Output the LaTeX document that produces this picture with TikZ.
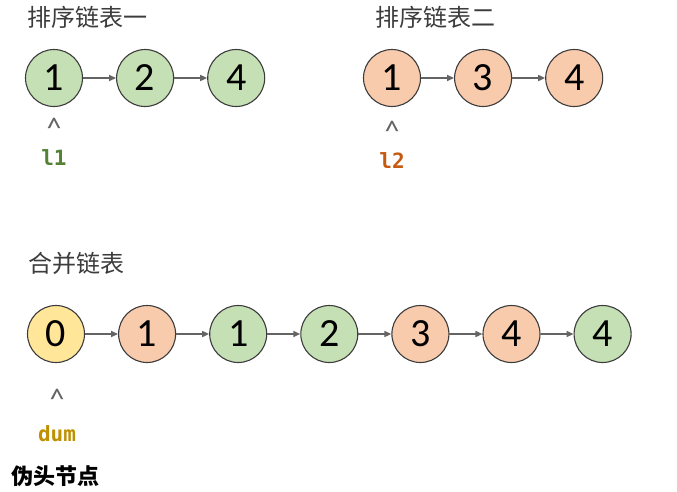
\documentclass[tikz,border=0pt]{standalone}
\usepackage{fontspec}
\setmainfont{Carlito}
\setmonofont{DejaVu Sans Mono}
\newfontfamily\cjkfont{Noto Sans CJK SC}
\usetikzlibrary{arrows.meta,positioning}
\definecolor{NodeGreen}{RGB}{197,224,180}
\definecolor{NodeOrange}{RGB}{248,203,173}
\definecolor{NodeYellow}{RGB}{255,230,153}
\definecolor{EdgeGray}{RGB}{60,60,60}
\definecolor{ArrowGray}{RGB}{100,100,100}
\definecolor{PtrGreen}{RGB}{84,130,53}
\definecolor{PtrOrange}{RGB}{197,90,17}
\definecolor{PtrGold}{RGB}{191,144,0}

\begin{document}
\begin{tikzpicture}[
    x=1pt,y=-1pt,
    nd/.style={circle,draw=EdgeGray,line width=1.1pt,minimum size=57pt,
               inner sep=0pt,font=\fontsize{40}{40}\selectfont},
    gnd/.style={nd,fill=NodeGreen},
    ond/.style={nd,fill=NodeOrange},
    ynd/.style={nd,fill=NodeYellow},
    arr/.style={-{Triangle[length=7pt,width=6pt]},ArrowGray,line width=1.6pt},
    ttl/.style={anchor=west,inner sep=0pt,text=EdgeGray,
                font=\cjkfont\fontsize{24}{24}\selectfont},
    hat/.style={inner sep=0pt,text=ArrowGray,font=\fontsize{30}{30}\selectfont},
    ptr/.style={inner sep=0pt,font=\ttfamily\bfseries\fontsize{21}{21}\selectfont},
    node distance=33pt
  ]
  \useasboundingbox (0,0) rectangle (677,491);

  % list one
  \node[ttl] (t1) at (27,17) {排序链表一};
  \node[gnd] (a1) at (54,78) {1};
  \node[gnd,right=of a1] (a2) {2};
  \node[gnd,right=of a2] (a3) {4};
  \draw[arr] (a1)--(a2); \draw[arr] (a2)--(a3);
  \node[hat] (h1) at (54,128) {\textasciicircum};
  \node[ptr,text=PtrGreen] (p1) at (54,158) {l1};

  % list two
  \node[ttl] (t2) at (375,17) {排序链表二};
  \node[ond] (b1) at (392,78) {1};
  \node[ond,right=of b1] (b2) {3};
  \node[ond,right=of b2] (b3) {4};
  \draw[arr] (b1)--(b2); \draw[arr] (b2)--(b3);
  \node[hat] (h2) at (392,131) {\textasciicircum};
  \node[ptr,text=PtrOrange] (p2) at (392,161) {l2};

  % merged list
  \node[ttl] (t3) at (28,263) {合并链表};
  \node[ynd] (m0) at (56,334) {0};
  \node[ond,right=of m0] (m1) {1};
  \node[gnd,right=of m1] (m2) {1};
  \node[gnd,right=of m2] (m3) {2};
  \node[ond,right=of m3] (m4) {3};
  \node[ond,right=of m4] (m5) {4};
  \node[gnd,right=of m5] (m6) {4};
  \foreach \i/\j in {0/1,1/2,2/3,3/4,4/5,5/6}
    \draw[arr] (m\i)--(m\j);
  \node[hat] (h3) at (57,399) {\textasciicircum};
  \node[ptr,text=PtrGold] (p3) at (57,434) {dum};
  \node[anchor=west,inner sep=0pt,font=\cjkfont\bfseries\fontsize{22}{22}\selectfont]
    (d0) at (11,476) {伪头节点};
\end{tikzpicture}
\end{document}
